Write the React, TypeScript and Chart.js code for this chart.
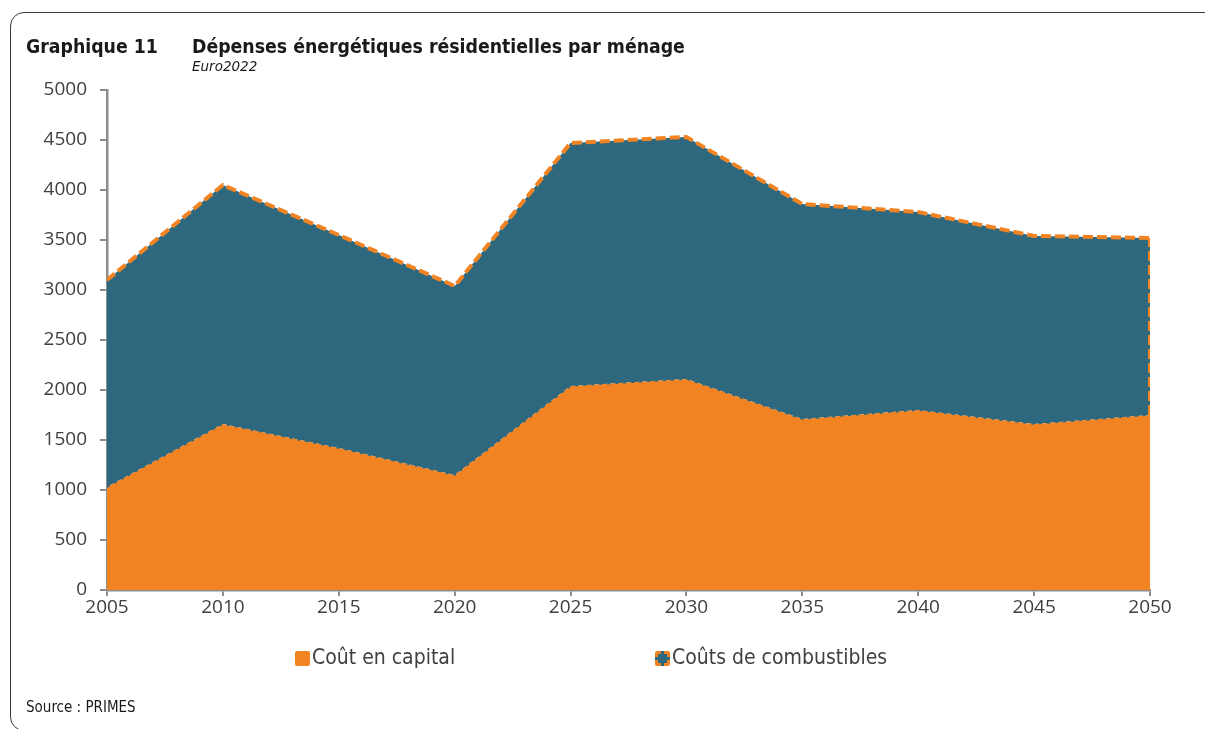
import React, { useEffect, useRef } from "react";
import { Chart, registerables } from "chart.js";

Chart.register(...registerables);

const years = [2005, 2010, 2015, 2020, 2025, 2030, 2035, 2040, 2045, 2050];
const capitalCost = [1030, 1660, 1420, 1150, 2040, 2110, 1710, 1800, 1660, 1750];
const fuelCost = [2070, 2390, 2130, 1890, 2430, 2420, 2150, 1980, 1880, 1770];
const yTicks = [0, 500, 1000, 1500, 2000, 2500, 3000, 3500, 4000, 4500, 5000];
const seriesNames = ["Coût en capital", "Coûts de combustibles"];

const ORANGE = "#F28322";
const TEAL = "#2E687E";
const AXIS = "#8C8C8C";
const TEXT = "#404040";
const FONT = "'DejaVu Sans Condensed', 'DejaVu Sans', sans-serif";

export default function App() {
  const ref = useRef<HTMLCanvasElement | null>(null);

  useEffect(() => {
    if (!ref.current) return;
    const first = 0;
    const last = years.length - 1;
    const chart = new Chart(ref.current, {
      type: "line",
      data: {
        datasets: [
          {
            label: seriesNames[0],
            data: years.map((x, i) => ({ x, y: capitalCost[i] })),
            stack: "main",
            fill: "origin",
            backgroundColor: ORANGE,
            borderColor: TEAL,
            borderWidth: 1.5,
            borderDash: [3, 5],
            pointRadius: 0,
            tension: 0,
            order: 1,
          },
          {
            label: seriesNames[1],
            data: years.map((x, i) => ({ x, y: fuelCost[i] })),
            stack: "main",
            fill: "-1",
            backgroundColor: TEAL,
            borderColor: ORANGE,
            borderWidth: 4,
            borderDash: [10, 4],
            pointRadius: 0,
            tension: 0,
            order: 2,
          },
          {
            label: "edgeRight",
            data: [
              { x: years[last], y: capitalCost[last] },
              { x: years[last], y: capitalCost[last] + fuelCost[last] },
            ],
            stack: "edgeR",
            fill: false,
            borderColor: ORANGE,
            borderWidth: 4,
            borderDash: [10, 4],
            pointRadius: 0,
            order: 0,
          },
          {
            label: "edgeLeft",
            data: [
              { x: years[first], y: capitalCost[first] },
              { x: years[first], y: capitalCost[first] + fuelCost[first] },
            ],
            stack: "edgeL",
            fill: false,
            borderColor: ORANGE,
            borderWidth: 2,
            borderDash: [6, 3],
            pointRadius: 0,
            order: 3,
          },
        ],
      },
      options: {
        animation: false,
        responsive: false,
        maintainAspectRatio: false,
        layout: { padding: { left: 0, top: 90, right: 55, bottom: 0 } },
        plugins: { legend: { display: false }, tooltip: { enabled: false }, title: { display: false } },
        scales: {
          x: {
            type: "linear",
            min: years[0],
            max: years[last],
            afterFit: (s: any) => {
              s.height = 139;
            },
            ticks: {
              stepSize: 5,
              color: TEXT,
              font: { family: "'Open Sans'", size: 19 },
              padding: 0,
              maxRotation: 0,
              callback: (v: any) => String(v),
            },
            grid: { display: true, drawOnChartArea: false, drawTicks: true, tickLength: 6, color: AXIS, lineWidth: 2 },
            border: { display: true, color: AXIS, width: 2.5 },
          },
          y: {
            type: "linear",
            stacked: true,
            min: yTicks[0],
            max: yTicks[yTicks.length - 1],
            afterFit: (s: any) => {
              s.width = 107;
            },
            afterBuildTicks: (s: any) => {
              s.ticks = yTicks.map((v) => ({ value: v }));
            },
            ticks: {
              color: TEXT,
              font: { family: "'Open Sans'", size: 19 },
              padding: 13,
              callback: (v: any) => String(v),
            },
            grid: { display: true, drawOnChartArea: false, drawTicks: true, tickLength: 7, color: AXIS, lineWidth: 2 },
            border: { display: true, color: AXIS, width: 2.5 },
          },
        },
      },
    });
    return () => chart.destroy();
  }, []);

  const legendText: React.CSSProperties = {
    position: "absolute",
    top: 647,
    fontFamily: FONT,
    fontSize: 21,
    lineHeight: 1,
    color: TEXT,
    whiteSpace: "nowrap",
  };

  const titleStyle: React.CSSProperties = {
    position: "absolute",
    top: 37,
    fontFamily: FONT,
    fontWeight: "bold",
    fontSize: 19.3,
    lineHeight: 1,
    color: "#1a1a1a",
    whiteSpace: "nowrap",
  };

  return (
    <div style={{ position: "fixed", left: 0, top: 0, width: 1205, height: 729, background: "#fff", overflow: "hidden" }}>
      <div
        style={{
          position: "absolute",
          left: 10,
          top: 12,
          width: 1230,
          height: 719,
          border: "1.5px solid #3a3a3a",
          borderRadius: 14,
          boxSizing: "border-box",
        }}
      />
      <canvas ref={ref} width={1205} height={729} style={{ position: "absolute", left: 0, top: 0, width: 1205, height: 729 }} />
      <div style={{ ...titleStyle, left: 26 }}>Graphique 11</div>
      <div style={{ ...titleStyle, left: 192 }}>Dépenses énergétiques résidentielles par ménage</div>
      <div
        style={{
          position: "absolute",
          left: 192,
          top: 60,
          fontFamily: "'DejaVu Sans', sans-serif",
          fontStyle: "italic",
          fontSize: 13.5,
          lineHeight: 1,
          color: "#1a1a1a",
          whiteSpace: "nowrap",
        }}
      >
        Euro2022
      </div>
      <div style={{ position: "absolute", left: 295, top: 651, width: 15, height: 15, background: ORANGE, borderRadius: 2 }} />
      <div style={{ ...legendText, left: 312 }}>{seriesNames[0]}</div>
      <div
        style={{
          position: "absolute",
          left: 655,
          top: 651,
          width: 15,
          height: 15,
          background: TEAL,
          border: `3px dashed ${ORANGE}`,
          boxSizing: "border-box",
          borderRadius: 2,
        }}
      />
      <div style={{ ...legendText, left: 672 }}>{seriesNames[1]}</div>
      <div
        style={{
          position: "absolute",
          left: 26,
          top: 700,
          fontFamily: FONT,
          fontSize: 15,
          lineHeight: 1,
          color: "#1a1a1a",
          whiteSpace: "nowrap",
        }}
      >
        Source : PRIMES
      </div>
    </div>
  );
}
